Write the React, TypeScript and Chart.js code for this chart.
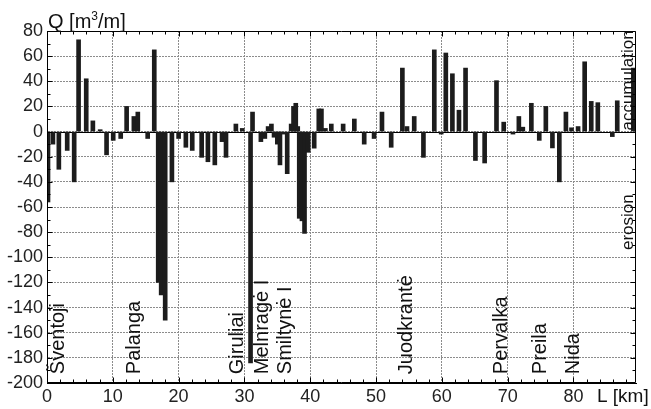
import React, { useEffect, useRef } from 'react';
import { Chart, registerables } from 'chart.js';

Chart.register(...registerables);

// Bar positions along the coast (km) and sediment volume change Q (m3/m)
const positionsKm = [
  0.15, 0.9, 1.8, 3.07, 4.13, 4.8, 5.96, 6.97, 8.08, 9.05,
  10.06, 11.2, 12.1, 13.2, 13.8, 15.3, 16.3, 16.9, 17.35, 17.96,
  18.98, 20.0, 21.1, 22.07, 23.5, 24.45, 25.5, 26.6, 27.2, 28.7,
  29.67, 30.93, 31.23, 32.5, 33.1, 33.6, 34.1, 34.5, 35.0, 35.4,
  35.9, 36.5, 37.1, 37.46, 37.8, 38.1, 38.33, 38.74, 39.13, 39.7,
  40.6, 41.3, 41.7, 42.3, 43.2, 45.0, 46.7, 48.2, 49.7, 50.9,
  52.3, 54.0, 54.7, 55.8, 57.2, 58.85, 59.9, 60.6, 61.6, 62.6,
  63.6, 65.1, 66.5, 68.3, 69.4, 70.8, 71.7, 72.3, 73.6, 74.8,
  75.8, 76.8, 77.85, 78.85, 79.7, 80.7, 81.7, 82.7, 83.7, 85.9,
  86.65, 89.1,
];
const volumes = [
  -56, -10, -30, -15, -40, 73, 42, 8.5, 1.5, -18.5,
  -7, -5.5, 20, 12, 15.5, -5.5, 65, -120, -130, -150,
  -40, -5.5, -12.5, -15, -20.5, -24, -26.5, -8, -20.5, 6,
  2.5, -184, 15.5, -8, -5.5, 4, 6, -4.5, -10, -26.5,
  -2, -33.5, 6, 20, 22.5, 4, -69, -71, -81, -16.5,
  -13.2, 18, 18, 2.5, 6, 6, 10, -10, -5.5, 15.5,
  -12.5, 50.5, 4, 12, -20.5, 65, -2, 62.5, 46, 17,
  50.5, -23, -25, 40.5, 7.5, -2, 12, 3.5, 22.5, -7,
  20, -13, -40, 15.5, 3, 4, 55.5, 24, 23, -4,
  24.5, 50.5,
];
const xTickValues = [0, 10, 20, 30, 40, 50, 60, 70, 80];
const yTickValues = [80, 60, 40, 20, 0, -20, -40, -60, -80, -100, -120, -140, -160, -180, -200];
const townNames = ['Šventoji', 'Palanga', 'Giruliai', 'Melnragė I', 'Smiltynė I', 'Juodkrantė', 'Pervalka', 'Preila', 'Nida'];
const townKm = [2.6, 14.15, 29.8, 33.6, 37.1, 55.5, 69.9, 75.9, 80.9];

const FONT = '"Liberation Sans", Arial, Helvetica, sans-serif';

export default function App() {
  const ref = useRef<HTMLCanvasElement>(null);

  useEffect(() => {
    document.body.style.margin = '0';
    const canvas = ref.current;
    if (!canvas) return;

    const decor = {
      id: 'decor',
      beforeDatasetsDraw(chart: any) {
        const { ctx, chartArea: a, scales } = chart;
        const y0 = Math.round(scales.y.getPixelForValue(0)) + 0.5;
        ctx.save();
        ctx.strokeStyle = '#000';
        ctx.lineWidth = 1;
        ctx.beginPath();
        ctx.moveTo(a.left, y0);
        ctx.lineTo(a.right, y0);
        ctx.stroke();
        ctx.restore();
      },
      afterDraw(chart: any) {
        const { ctx, chartArea: a, scales } = chart;
        const xs = scales.x;
        const ys = scales.y;
        ctx.save();
        // frame
        ctx.strokeStyle = '#000';
        ctx.lineWidth = 1;
        const L = Math.round(a.left) + 0.5;
        const R = Math.round(a.right) - 0.5;
        const T = Math.round(a.top) + 0.5;
        const B = Math.round(a.bottom) - 0.5;
        ctx.beginPath();
        ctx.rect(L, T, R - L, B - T);
        ctx.stroke();
        // tick marks inward
        ctx.beginPath();
        for (let v = 0; v <= 89; v += 2) {
          const px = Math.round(xs.getPixelForValue(v)) + 0.5;
          const len = v % 10 === 0 ? 5 : 3;
          ctx.moveTo(px, B); ctx.lineTo(px, B - len);
          ctx.moveTo(px, T); ctx.lineTo(px, T + len);
        }
        for (let v = -200; v <= 80; v += 10) {
          const py = Math.round(ys.getPixelForValue(v)) + 0.5;
          const len = v % 20 === 0 ? 5 : 3;
          ctx.moveTo(L, py); ctx.lineTo(L + len, py);
          ctx.moveTo(R, py); ctx.lineTo(R - len, py);
        }
        ctx.stroke();

        ctx.fillStyle = '#111';
        // axis titles
        ctx.textAlign = 'left';
        ctx.textBaseline = 'alphabetic';
        ctx.font = `20px ${FONT}`;
        let tx = 48;
        ctx.fillText('Q [m', tx, 28);
        tx += ctx.measureText('Q [m').width;
        ctx.font = `12px ${FONT}`;
        ctx.fillText('3', tx, 20);
        tx += ctx.measureText('3').width;
        ctx.font = `20px ${FONT}`;
        ctx.fillText('/m]', tx, 28);

        ctx.font = `19px ${FONT}`;
        ctx.fillText('L [km]', 597, 402);

        // town labels (rotated)
        ctx.font = `20px ${FONT}`;
        const startY = ys.getPixelForValue(-193);
        townNames.forEach((name, i) => {
          const bx = xs.getPixelForValue(townKm[i]);
          ctx.save();
          ctx.translate(bx, startY);
          ctx.rotate(-Math.PI / 2);
          ctx.textAlign = 'left';
          ctx.textBaseline = 'alphabetic';
          ctx.fillText(name, 0, 0);
          ctx.restore();
        });

        // accumulation / erosion
        ctx.font = `17px ${FONT}`;
        const rx = a.right - 3;
        ctx.save();
        ctx.translate(rx, ys.getPixelForValue(0) - 1);
        ctx.rotate(-Math.PI / 2);
        ctx.fillText('accumulation', 0, 0);
        ctx.restore();
        ctx.save();
        ctx.translate(rx, 250);
        ctx.rotate(-Math.PI / 2);
        ctx.fillText('erosion', 0, 0);
        ctx.restore();

        ctx.restore();
      },
    };

    const chart = new Chart(canvas, {
      type: 'bar',
      data: {
        datasets: [
          {
            data: positionsKm.map((x, i) => ({ x, y: volumes[i] })),
            backgroundColor: '#1c1c1c',
            borderWidth: 0,
            barThickness: 4,
          } as any,
        ],
      },
      options: {
        animation: false,
        responsive: false,
        devicePixelRatio: 1,
        layout: { padding: { top: 31, right: 15, left: 0, bottom: 0 } },
        plugins: { legend: { display: false }, tooltip: { enabled: false }, title: { display: false } },
        scales: {
          x: {
            type: 'linear',
            offset: false,
            min: 0,
            max: 89.5,
            afterBuildTicks: (s: any) => {
              s.ticks = xTickValues.map((v) => ({ value: v }));
            },
            afterFit: (s: any) => {
              s.height = 26;
            },
            grid: { color: '#8c8c8c', lineWidth: 1, drawTicks: false, offset: false },
            border: { display: true, color: '#000', width: 1, dash: [2, 1] },
            ticks: {
              font: { size: 18, family: FONT },
              color: '#222',
              padding: 3,
              maxRotation: 0,
              autoSkip: false,
              callback: (v: any) => String(v),
            },
          },
          y: {
            type: 'linear',
            min: -200,
            max: 80,
            afterBuildTicks: (s: any) => {
              s.ticks = yTickValues.map((v) => ({ value: v }));
            },
            afterFit: (s: any) => {
              s.width = 47;
            },
            grid: { color: '#8c8c8c', lineWidth: 1, drawTicks: false },
            border: { display: true, color: '#000', width: 1, dash: [2, 1] },
            ticks: {
              font: { size: 18, family: FONT },
              color: '#222',
              padding: 4,
              autoSkip: false,
              callback: (v: any) => String(v),
            },
          },
        },
      },
      plugins: [decor],
    } as any);

    return () => chart.destroy();
  }, []);

  return (
    <div style={{ position: 'absolute', left: 0, top: 0, width: 651, height: 409, background: '#fff' }}>
      <canvas ref={ref} width={651} height={409} style={{ display: 'block', width: 651, height: 409 }} />
    </div>
  );
}
